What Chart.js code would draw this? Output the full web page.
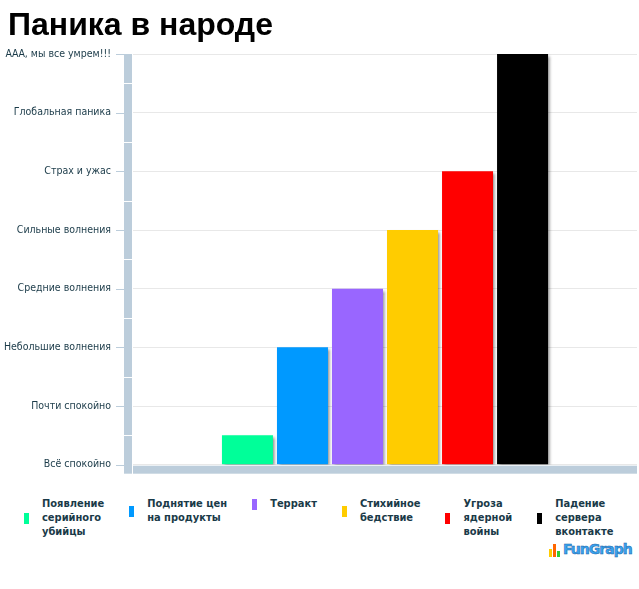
<!DOCTYPE html>
<html>
<head>
<meta charset="utf-8">
<script src="https://cdn.jsdelivr.net/npm/chart.js@4"></script>
<style>
  body { margin: 0; background: #fff; }
  #wrap { position: relative; width: 639px; height: 493px; }
  #title { position: absolute; left: 8px; top: 8px; margin: 0; font: bold 32px "Liberation Sans", sans-serif;
           line-height: 32px; color: #000; }
  #legend { display: flex; align-items: flex-start; gap: 25px; margin: 4px 0 0 24px;
            font: bold 11px "DejaVu Sans Condensed", sans-serif; line-height: 14px; color: #1a3a48; }
  #legend .item { display: flex; align-items: center; }
  #legend .mark { width: 5px; height: 11px; margin-right: 13px; }
  #logo { position: absolute; left: 549px; top: 541px; font: bold 14px "DejaVu Sans", sans-serif;
          color: #3aa6f0; letter-spacing: -1px; display: flex; align-items: flex-end;
          -webkit-text-stroke: 0.5px #1d5fa8; }
  #logo i { display: inline-block; width: 3px; margin-right: 1px; }
</style>
</head>
<body>
<div id="wrap"><canvas id="myChart"></canvas><h1 id="title">Паника в народе</h1></div>
<div id="legend"></div>
<div id="logo"><i style="height:8px;background:#ffcc00"></i><i style="height:13px;background:#ff6600"></i><i style="height:6px;background:#33cc33"></i><span style="margin-left:2px">FunGraph</span></div>
<script>
// panic levels, bottom to top
var levels = ["Всё спокойно", "Почти спокойно", "Небольшие волнения", "Средние волнения",
              "Сильные волнения", "Страх и ужас", "Глобальная паника", "ААА, мы все умрем!!!"];
var causes = [["Появление", "серийного", "убийцы"], ["Поднятие цен", "на продукты"], ["Терракт"],
              ["Стихийное", "бедствие"], ["Угроза", "ядерной", "войны"], ["Падение", "сервера", "вконтакте"]];
var panic = [0.5, 2, 3, 4, 5, 7];
var colors = ["#00ff99", "#0099ff", "#9966ff", "#ffcc00", "#ff0000", "#000000"];

var datasets = [];
for (i = 0; i < causes.length; i++) {
    datasets.push({
        label: causes[i].join(" "),
        data: [panic[i]],
        backgroundColor: colors[i],
        borderWidth: 0,
        categoryPercentage: 0.655,
        barPercentage: 0.927
    });
}

// light blue axis bands + tick marks, like the original
var axisBands = {
    id: "axisBands",
    beforeDatasetsDraw: function(chart) {
        var c = chart.ctx, a = chart.chartArea, y = chart.scales.y;
        c.save();
        c.fillStyle = "#bccddb";
        c.fillRect(a.left - 9, a.top, 8, a.bottom + 9 - a.top);
        c.fillRect(a.left, a.bottom + 1, a.right - a.left, 8);
        c.fillStyle = "#ffffff";
        for (var v = 0; v < levels.length - 1; v++) {
            var m = Math.round((y.getPixelForValue(v) + y.getPixelForValue(v + 1)) / 2);
            c.fillRect(a.left - 9, m, 8, 1);
        }
        c.fillStyle = "#bccddb";
        for (var v = 0; v < levels.length; v++) {
            var p = Math.round(y.getPixelForValue(v));
            c.fillRect(a.left - 17, p, 8, 1);
        }
        c.restore();
        // shadow for the bars
        c.save();
        c.shadowColor = "rgba(0,0,0,0.45)";
        c.shadowBlur = 3;
        c.shadowOffsetX = 2;
        c.shadowOffsetY = 2;
    },
    afterDatasetsDraw: function(chart) {
        chart.ctx.restore();
    }
};

var myChart = new Chart(document.getElementById("myChart"), {
    type: "bar",
    data: { labels: [""], datasets: datasets },
    options: {
        responsive: true,
        maintainAspectRatio: false,
        animation: false,
        layout: { padding: { left: 0, right: 2, top: 54, bottom: 20 } },
        plugins: {
            legend: { display: false },
            tooltip: { enabled: false }
        },
        scales: {
            x: { display: false },
            y: {
                min: 0, max: 7,
                afterFit: function(s) { s.width = 133; },
                ticks: {
                    stepSize: 1,
                    padding: 22,
                    color: "#1a3a48",
                    font: { family: "DejaVu Sans Condensed", size: 10.5 },
                    callback: function(v) { return levels[v]; }
                },
                grid: { color: "#e8e8e8", drawTicks: false },
                border: { display: false }
            }
        }
    },
    plugins: [axisBands]
});

// legend below the chart
var lg = document.getElementById("legend");
for (i = 0; i < causes.length; i++) {
    var it = document.createElement("div");
    it.className = "item";
    var mk = document.createElement("div");
    mk.className = "mark";
    mk.style.background = colors[i];
    var tx = document.createElement("div");
    tx.innerHTML = causes[i].join("<br>");
    it.appendChild(mk);
    it.appendChild(tx);
    lg.appendChild(it);
}
</script>
</body>
</html>
